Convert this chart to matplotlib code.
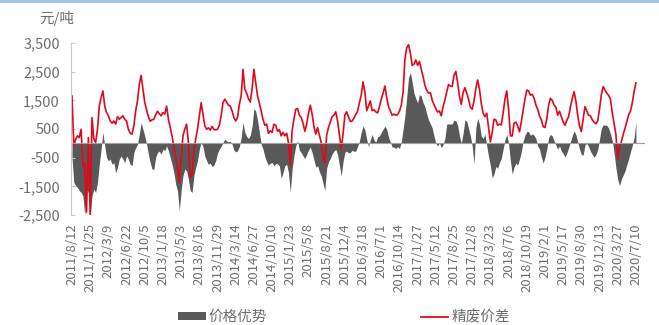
import matplotlib
matplotlib.use("Agg")
import matplotlib.pyplot as plt
import numpy as np
from matplotlib.lines import Line2D
from matplotlib.patches import Patch

plt.rcParams["font.family"] = ["Noto Sans CJK SC", "DejaVu Sans"]

# one date label every 75 trading days; values read 10 times per label step
tick_labels = [
    "2011/8/12", "2011/11/25", "2012/3/9", "2012/6/22", "2012/10/5", "2013/1/18",
    "2013/5/3", "2013/8/16", "2013/11/29", "2014/3/14", "2014/6/27", "2014/10/10",
    "2015/1/23", "2015/5/8", "2015/8/21", "2015/12/4", "2016/3/18", "2016/7/1",
    "2016/10/14", "2017/1/27", "2017/5/12", "2017/8/25", "2017/12/8", "2018/3/23",
    "2018/7/6", "2018/10/19", "2019/2/1", "2019/5/17", "2019/8/30", "2019/12/13",
    "2020/3/27", "2020/7/10",
]
SAMPLES_PER_LABEL = 10

# 精废价差 (元/吨)
spread = [
    1650, -90, 145, 260, 200, 490, -780, -700, -2400, 200,
    -2500, 900, 145, 30, 490, 1300, 1600, 1830, 1300, 1070,
    960, 780, 700, 780, 670, 930, 840, 900, 960, 840,
    780, 490, 350, 320, 610, 1130, 1480, 2060, 2370, 1890,
    1420, 1160, 930, 770, 820, 840, 1000, 1120, 1030, 960,
    1070, 1020, 1300, 840, 550, 260, -145, -490, -840, -1360,
    -550, 260, 490, 670, 30, -1190, -1130, -260, 145, 490,
    960, 1420, 1020, 610, 490, 540, 460, 590, 490, 470,
    490, 630, 960, 1420, 1540, 1440, 1330, 1300, 1130, 900,
    780, 900, 1360, 1650, 2580, 1890, 1750, 1560, 1440, 1890,
    2580, 2120, 1650, 1400, 1130, 840, 630, 670, 350, 435,
    380, 670, 630, 420, 480, 260, 380, 260, 350, 30,
    -780, 435, 840, 1190, 1210, 980, 900, 700, 420, 670,
    1050, 1330, 1020, 590, 320, 550, 290, 30, -460, -670,
    290, 550, 750, 930, 980, 1100, 780, 310, -200, 320,
    980, 1100, 920, 760, 780, 880, 1000, 1120, 1410, 1680,
    2140, 1800, 1140, 1300, 1480, 1140, 1170, 1100, 1060, 1280,
    1540, 1750, 2000, 1600, 1280, 1130, 980, 1020, 980, 1000,
    1120, 1320, 1770, 2930, 3330, 3440, 3160, 2720, 2760, 2910,
    2720, 2860, 2580, 2330, 2030, 1850, 1750, 1770, 1510, 1350,
    1210, 1090, 1130, 960, 1280, 1510, 1800, 2050, 2000, 1980,
    2370, 2510, 2120, 1650, 1360, 1770, 1940, 1750, 1540, 1250,
    1190, 1480, 1910, 2210, 1890, 1390, 1050, 930, 1050, 550,
    50, 380, 840, 820, 630, 670, 640, 1050, 1540, 1830,
    1190, 260, 260, 700, 740, 610, 400, 750, 1140, 1540,
    1860, 1830, 1680, 1710, 1580, 1340, 1190, 960, 820, 590,
    550, 840, 1330, 1570, 1500, 1340, 1260, 980, 1120, 940,
    750, 630, 800, 930, 1270, 1560, 1800, 1480, 980, 610,
    410, 840, 1280, 1130, 980, 960, 820, 740, 680, 780,
    1190, 1700, 1980, 1860, 1750, 1680, 1540, 1070, 680, 310,
    -550, -90, 50, 310, 520, 750, 990, 1120, 1410, 1800,
    2110,
]

# 价格优势 (元/吨)
advantage = [
    -500, -1360, -1480, -1540, -1650, -1710, -1830, -2500, -1600, -1710,
    -2500, -1830, -1600, -1710, -1360, -730, -200, 380, -90, -490,
    -610, -550, -730, -670, -1020, -840, -550, -440, -550, -670,
    -440, -550, -730, -780, -320, -150, -30, 320, 720, 490,
    260, -30, -380, -670, -900, -900, -490, -320, -270, -380,
    -200, -260, -90, -260, -490, -730, -1020, -1420, -1650, -2350,
    -1650, -1130, -900, -960, -1250, -1650, -1710, -1130, -840, -610,
    -200, 30, -110, -440, -610, -730, -690, -810, -760, -600,
    -340, -200, -100, 30, 145, 75, 50, 75, -30, -230,
    -300, -260, -110, 200, 720, 380, 240, 170, 280, 610,
    1210, 1130, 800, 380, -30, -200, -460, -640, -760, -690,
    -670, -780, -710, -710, -780, -1220, -1020, -780, -730, -1020,
    -1710, -900, -440, -90, 90, -240, -320, -440, -530, -390,
    -230, -130, -320, -570, -830, -780, -990, -1130, -1390, -1650,
    -870, -640, -530, -370, -270, -210, -390, -760, -1130, -640,
    -310, -270, -330, -320, -240, -280, -270, -110, 75, 380,
    610, 470, 145, -110, 120, 310, 120, 40, 230, 260,
    380, 490, 600, 490, 210, 50, -130, -130, -180, -110,
    -180, 40, 490, 960, 1600, 2290, 2470, 2140, 1750, 1560,
    1420, 1700, 1650, 1420, 1280, 1030, 820, 680, 540, 260,
    0, -90, 20, -150, -40, 170, 670, 680, 670, 680,
    810, 790, 630, 260, 0, 350, 820, 770, 520, 260,
    -90, -730, 520, 880, 670, 250, 170, 320, -90, -460,
    -780, -1200, -1070, -810, -870, -670, -530, -200, 120, 310,
    0, -610, -1070, -840, -690, -760, -550, -300, 75, 280,
    410, 410, 280, 330, 280, 170, -90, -200, -470, -690,
    -490, -200, 200, 310, 260, 90, -60, -200, -90, -270,
    -350, -480, -340, -160, 50, 260, 435, 300, 50, -200,
    -390, -410, -50, 0, -110, -270, -390, -480, -400, -210,
    145, 520, 650, 630, 630, 530, 330, 100, -330, -850,
    -1250, -1480, -1240, -1110, -960, -740, -540, -300, -80, 200,
    750,
]

y_ticks = [-2500, -1500, -500, 500, 1500, 2500, 3500]

TEXT = "#6e6e6e"
RED = "#E0081C"
GREY = "#595959"

fig = plt.figure(figsize=(6.59, 3.25), dpi=100)
ax = fig.add_axes([71 / 659, 1 - 215 / 325, (645 - 71) / 659, (215 - 43) / 325])

x = np.arange(len(spread))
ax.fill_between(x, 0, advantage, color=GREY, linewidth=0)
ax.plot(x, spread, color=RED, linewidth=1.2)
ax.axhline(0, color="#a0a0a0", linewidth=0.8)

ax.set_ylim(-2500, 3500)
ax.set_xlim(-0.55, len(spread) - 1 + 5)
ax.set_yticks(y_ticks)
ax.set_yticklabels([f"{v:,}" for v in y_ticks])
ax.set_xticks(np.arange(len(tick_labels)) * SAMPLES_PER_LABEL)
ax.set_xticklabels(tick_labels, rotation=90)

for side in ["top", "right", "bottom"]:
    ax.spines[side].set_visible(False)
ax.spines["left"].set_color("#c8c8c8")
ax.tick_params(axis="y", direction="in", length=3, color="#c8c8c8",
               labelsize=10.5, labelcolor=TEXT, pad=8)
ax.tick_params(axis="x", length=0, labelsize=9.5, labelcolor=TEXT, pad=6)

fig.text(57 / 659, 1 - 19 / 325, "元/吨", ha="center", va="center",
         fontsize=10.5, color=TEXT)

handles = [
    Patch(facecolor=GREY, edgecolor="none", label="价格优势"),
    Line2D([], [], color=RED, linewidth=1.3, label="精废价差"),
]
fig.legend(handles=handles, loc="center", bbox_to_anchor=(0.522, 1 - 317 / 325),
           ncol=2, frameon=False, fontsize=10.5, labelcolor=TEXT,
           handlelength=1.9, handleheight=0.45, handletextpad=0.2,
           columnspacing=10.5)

# thin light-blue frame line across the top
fig.add_artist(Line2D([0, 1], [0.997, 0.997], transform=fig.transFigure,
                      color="#9DC3E6", linewidth=2))

fig.savefig("out.png", dpi=100)
